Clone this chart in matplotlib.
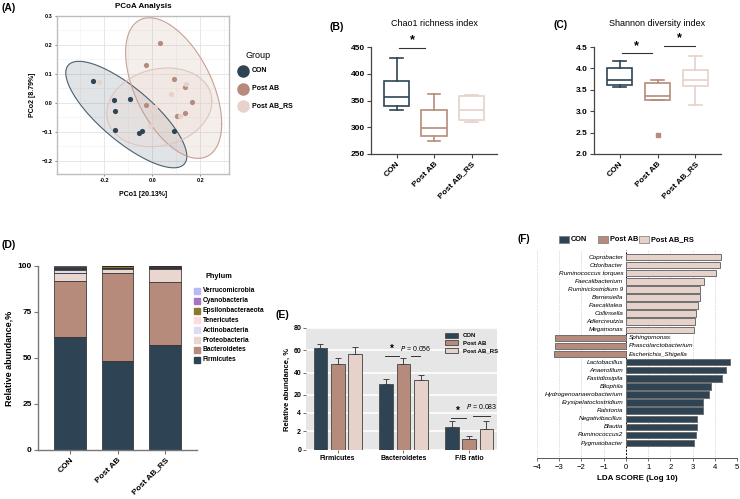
import numpy as np
import matplotlib
matplotlib.use("Agg")
import matplotlib.pyplot as plt
from matplotlib.lines import Line2D

plt.rcParams['font.family'] = ['Liberation Sans', 'DejaVu Sans']

groups = ['CON', 'Post AB', 'Post AB_RS']
col = {'CON': '#2e4454', 'Post AB': '#b68b7b', 'Post AB_RS': '#e6d2ca'}

# ---- (A) PCoA
pcoa_con_x = [-0.245, -0.157, -0.093, -0.155, -0.155, -0.054, -0.042, 0.089]
pcoa_con_y = [0.074, 0.010, 0.012, -0.029, -0.094, -0.103, -0.097, -0.097]
pcoa_ab_x = [0.031, -0.025, 0.089, 0.136, 0.167, -0.025, 0.136, 0.104]
pcoa_ab_y = [0.208, 0.130, 0.081, 0.056, 0.002, -0.007, -0.034, -0.044]
pcoa_rs_x = [-0.221, 0.142, 0.078, 0.011, 0.0, 0.013, -0.008, 0.114]
pcoa_rs_y = [0.071, 0.065, 0.032, -0.013, -0.027, -0.050, -0.079, -0.044]
# confidence ellipses: centre, half-extent in x and y, y-offset of the rightmost point
ell_cx = [-0.1075, 0.0896, 0.030]
ell_cy = [-0.0406, 0.051, -0.0156]
ell_rx = [0.252, 0.200, 0.219]
ell_ry = [0.184, 0.243, 0.136]
ell_k = [-0.144, -0.123, 0.021]

# ---- (B) Chao1  (whislo, q1, med, q3, whishi)
chao1 = [[333, 340, 356, 387, 430], [274, 284, 299, 333, 362], [310, 314, 333, 359, 361]]
# ---- (C) Shannon
shannon = [[3.56, 3.61, 3.72, 4.02, 4.17], [3.27, 3.27, 3.36, 3.67, 3.73], [3.14, 3.60, 3.74, 3.97, 4.30]]
shannon_outlier = [[], [2.45], []]

# ---- (D) phylum composition
phyla = ['Firmicutes', 'Bacteroidetes', 'Proteobacteria', 'Actinobacteria', 'Tenericutes',
         'Epsilonbacteraeota', 'Cyanobacteria', 'Verrucomicrobia']
phyla_col = ['#2e4454', '#b68b7b', '#e8d6cf', '#dcdcf6', '#ffd9dc', '#8a7b2c', '#a674c4', '#b9b9fa']
abund = {
    'Firmicutes': [61.5, 48.2, 57.3],
    'Bacteroidetes': [30.4, 48.2, 34.0],
    'Proteobacteria': [4.5, 2.2, 7.2],
    'Actinobacteria': [1.5, 0.2, 0.4],
    'Tenericutes': [0.6, 0.1, 0.2],
    'Epsilonbacteraeota': [0.4, 1.0, 0.6],
    'Cyanobacteria': [0.3, 0.1, 0.1],
    'Verrucomicrobia': [0.8, 0.2, 0.2],
}

# ---- (E) mean +- error
e_cats = ['Firmicutes', 'Bacteroidetes', 'F/B ratio']
e_mean = {'CON': [62, 30, 2.5], 'Post AB': [48, 48, 1.2], 'Post AB_RS': [57, 33.5, 2.3]}
e_err = {'CON': [4, 4, 0.6], 'Post AB': [5, 5, 0.3], 'Post AB_RS': [6, 4.5, 0.8]}

# ---- (F) LEfSe
taxa = ['Coprobacter', 'Odoribacter', 'Ruminococcus torques', 'Faecalibacterium', 'Ruminiclostridium 9',
        'Barnesiella', 'Faecalitalea', 'Collinsella', 'Adlercreutzia', 'Megamonas',
        'Sphingomonas', 'Phascolarctobacterium', 'Escherichia_Shigella',
        'Lactobacillus', 'Anaerofilum', 'Fastidiosipila', 'Bilophila', 'Hydrogenoanaerobacterium',
        'Erysipelatoclostridium', 'Ralstonia', 'Negativibacillus', 'Blautia', 'Ruminococcus2', 'Pygmaiobacter']
lda = [4.27, 4.25, 4.06, 3.52, 3.34, 3.33, 3.25, 3.17, 3.13, 3.07,
       -3.19, -3.19, -3.22,
       4.68, 4.50, 4.32, 3.82, 3.75, 3.49, 3.45, 3.19, 3.18, 3.15, 3.07]
lda_group = ['Post AB_RS'] * 10 + ['Post AB'] * 3 + ['CON'] * 11

W, H = 740, 499
fig = plt.figure(figsize=(W / 100, H / 100), dpi=100)


def ax_px(l, t, r, b):
    return fig.add_axes([l / W, 1 - b / H, (r - l) / W, (b - t) / H])


def label(x, y, s, size=7.5):
    fig.text(x / W, 1 - y / H, s, fontsize=size, fontweight='bold', va='center', ha='left')


# ================= A
ax = ax_px(57, 16, 229, 174)
ax.set_xlim(-0.396, 0.32)
ax.set_ylim(-0.246, 0.3)
ax.set_xticks([-0.2, 0.0, 0.2])
ax.set_yticks([-0.2, -0.1, 0.0, 0.1, 0.2, 0.3])
ax.set_xticks([-0.3, -0.1, 0.1, 0.3], minor=True)
ax.set_yticks([-0.15, -0.05, 0.05, 0.15, 0.25], minor=True)
ax.grid(True, which='major', color='#e3e3e3', lw=0.6)
ax.grid(True, which='minor', color='#efefef', lw=0.4)
ax.set_axisbelow(True)
for s in ax.spines.values():
    s.set_color('#bdbdbd')
    s.set_linewidth(1.0)
ax.tick_params(labelsize=4, length=1.5, width=0.5, color='#555555', pad=1.5)
ax.tick_params(which='minor', length=0)
for t in ax.get_xticklabels() + ax.get_yticklabels():
    t.set_fontweight('bold')
ax.set_xticklabels(['-0.2', '0.0', '0.2'])
t = np.linspace(0, 2 * np.pi, 240)
ell_face = ['#2e4454', '#c69c8c', '#ead8d0']
ell_edge = ['#4b6070', '#c8a092', '#dcc6bd']
ell_alpha = [0.14, 0.16, 0.3]
for i in range(3):
    m = np.array([[ell_rx[i] ** 2, ell_k[i] * ell_rx[i]],
                  [ell_k[i] * ell_rx[i], ell_ry[i] ** 2]])
    L = np.linalg.cholesky(m)
    pts = L @ np.vstack([np.cos(t), np.sin(t)])
    ex = ell_cx[i] + pts[0]
    ey = ell_cy[i] + pts[1]
    ax.fill(ex, ey, color=ell_face[i], alpha=ell_alpha[i], lw=0)
    ax.plot(ex, ey, color=ell_edge[i], lw=0.8)
ax.scatter(pcoa_con_x, pcoa_con_y, s=14, color=col['CON'], zorder=3, lw=0)
ax.scatter(pcoa_ab_x, pcoa_ab_y, s=14, color=col['Post AB'], zorder=3, lw=0)
ax.scatter(pcoa_rs_x, pcoa_rs_y, s=14, color=col['Post AB_RS'], zorder=3, lw=0)
ax.set_xlabel('PCo1 [20.13%]', fontsize=5, fontweight='bold', labelpad=6)
ax.set_ylabel('PCo2 [8.79%]', fontsize=5, fontweight='bold', labelpad=4)
ax.set_title('PCoA Analysis', fontsize=5.8, fontweight='bold', pad=6)
label(2, 8, '(A)')
fig.text(245 / W, 1 - 55 / H, 'Group', fontsize=6.5, va='center')
for i, g in enumerate(groups):
    yy = 71 + i * 17.5
    fig.add_artist(Line2D([243 / W], [1 - yy / H], marker='o', ms=8, color=col[g], ls='none',
                          transform=fig.transFigure))
    fig.text(252 / W, 1 - yy / H, g, fontsize=5, fontweight='bold', va='center')


# ================= B / C box plots
def boxpanel(ax, stats, fliers, ylim, yticks, title):
    bx = []
    for (lo, q1, md, q3, hi), fl in zip(stats, fliers):
        bx.append(dict(whislo=lo, q1=q1, med=md, q3=q3, whishi=hi, fliers=fl))
    art = ax.bxp(bx, positions=[0, 1, 2], widths=0.67, showfliers=True, patch_artist=True)
    for i, g in enumerate(groups):
        c = col[g]
        art['boxes'][i].set(facecolor='white', edgecolor=c, lw=1.2)
        art['medians'][i].set(color=c, lw=1.2)
        for k in (2 * i, 2 * i + 1):
            art['whiskers'][k].set(color=c, lw=1.2)
            art['caps'][k].set(color=c, lw=1.2)
        art['fliers'][i].set(marker='s', markerfacecolor=c, markeredgecolor=c, ms=3.5)
    ax.set_xlim(-0.68, 2.68)
    ax.set_ylim(*ylim)
    ax.set_yticks(yticks)
    ax.spines['top'].set_visible(False)
    ax.spines['right'].set_visible(False)
    for s in ('left', 'bottom'):
        ax.spines[s].set_color('#444444')
        ax.spines[s].set_linewidth(0.9)
    ax.tick_params(labelsize=6, length=3, width=0.8, color='#444444', pad=1.5)
    ax.set_xticks([0, 1, 2])
    ax.set_xticklabels(groups, rotation=45, ha='right', rotation_mode='anchor', fontweight='bold')
    for tl in ax.get_yticklabels():
        tl.set_fontweight('bold')
    ax.set_title(title, fontsize=6.5, pad=15)


ax = ax_px(371, 47, 497, 154)
boxpanel(ax, chao1, [[], [], []], (250, 450), [250, 300, 350, 400, 450], 'Chao1 richness index')
ax.plot([0.06, 0.76], [448, 448], color='#333333', lw=0.8, clip_on=False)
ax.text(0.41, 451, '*', fontsize=9, fontweight='bold', ha='center', va='bottom')
label(330, 27, '(B)')

ax = ax_px(594, 47, 721, 154)
boxpanel(ax, shannon, shannon_outlier, (2.0, 4.5), [2.0, 2.5, 3.0, 3.5, 4.0, 4.5], 'Shannon diversity index')
ax.plot([0.05, 0.86], [4.36, 4.36], color='#333333', lw=0.8, clip_on=False)
ax.plot([1.16, 1.98], [4.53, 4.53], color='#333333', lw=0.8, clip_on=False)
ax.text(0.45, 4.39, '*', fontsize=9, fontweight='bold', ha='center', va='bottom')
ax.text(1.57, 4.56, '*', fontsize=9, fontweight='bold', ha='center', va='bottom')
label(554, 25, '(C)')

# ================= D
ax = ax_px(38, 266, 197, 450)
bottom = np.zeros(3)
for p, c in zip(phyla, phyla_col):
    vals = np.array(abund[p])
    ax.bar([0, 1, 2], vals, bottom=bottom, width=0.67, color=c, edgecolor='#222222', lw=0.5)
    bottom += vals
ax.set_xlim(-0.67, 2.67)
ax.set_ylim(0, 100)
ax.set_yticks([0, 25, 50, 75, 100])
ax.spines['top'].set_visible(False)
ax.spines['right'].set_visible(False)
for s in ('left', 'bottom'):
    ax.spines[s].set_color('#777777')
    ax.spines[s].set_linewidth(1.0)
ax.tick_params(labelsize=6, length=3, width=0.8, color='#777777', pad=1.5)
ax.set_xticks([0, 1, 2])
ax.set_xticklabels(groups, rotation=45, ha='right', rotation_mode='anchor', fontweight='bold')
for tl in ax.get_yticklabels():
    tl.set_fontweight('bold')
ax.set_ylabel('Relative abundance,%', fontsize=6.5, fontweight='bold', labelpad=3)
label(2, 245, '(D)')
fig.text(205 / W, 1 - 277 / H, 'Phylum', fontsize=5.3, fontweight='bold', va='center')
for i, p in enumerate(phyla[::-1]):
    yy = 291 + i * 9.8
    ci = phyla_col[phyla.index(p)]
    fig.add_artist(Line2D([197 / W], [1 - yy / H], marker='s', ms=4, color=ci, ls='none',
                          transform=fig.transFigure))
    fig.text(203 / W, 1 - yy / H, p, fontsize=4.8, fontweight='bold', va='center')


# ================= E  (broken-style axis: 0-4 stretched, above 4 compressed)
def fwd(v):
    v = np.asarray(v, dtype=float)
    return np.where(v <= 4, v, 4 + (v - 4) * 0.12)


def inv(v):
    v = np.asarray(v, dtype=float)
    return np.where(v <= 4, v, 4 + (v - 4) / 0.12)


ax = ax_px(306, 328, 497, 450)
ax.set_facecolor('#e6e6e6')
ax.set_yscale('function', functions=(fwd, inv))
ax.set_ylim(0, 80)
ax.set_yticks([0, 2, 4, 20, 40, 60, 80])
ax.yaxis.grid(True, color='white', lw=1.2)
ax.set_axisbelow(True)
xs = np.arange(3)
for k, g in enumerate(groups):
    ax.bar(xs + (k - 1) * 0.26, e_mean[g], width=0.21, color=col[g], edgecolor='#555555', lw=0.7,
           yerr=[[0, 0, 0], e_err[g]], error_kw=dict(ecolor='#444444', elinewidth=0.7, capsize=2.5, capthick=0.7),
           label=g)
ax.set_xlim(-0.48, 2.42)
for s in ax.spines.values():
    s.set_visible(False)
ax.set_xticks(xs)
ax.set_xticklabels(e_cats, fontweight='bold')
ax.tick_params(labelsize=5, length=2, width=0.6, color='#555555', pad=1.5)
for tl in ax.get_yticklabels():
    tl.set_fontweight('bold')
ax.set_ylabel('Relative abundance, %', fontsize=5.5, fontweight='bold', labelpad=2)
leg = ax.legend(loc='upper right', bbox_to_anchor=(1.03, 1.0), fontsize=4.3, frameon=False,
                handlelength=2.2, handleheight=0.9, labelspacing=0.35, borderpad=0.3)
for tx in leg.get_texts():
    tx.set_fontweight('bold')
ax.plot([0.72, 0.93], [54.5, 54.5], color='#333333', lw=0.7)
ax.plot([1.11, 1.25], [55, 55], color='#333333', lw=0.7)
ax.text(0.83, 57, '*', fontsize=7, fontweight='bold', ha='center', va='bottom')
ax.text(0.95, 58, '$P$ = 0.056', fontsize=5, ha='left', va='bottom')
ax.plot([1.715, 1.95], [3.41, 3.41], color='#333333', lw=0.7)
ax.plot([2.05, 2.31], [3.63, 3.63], color='#333333', lw=0.7)
ax.text(1.83, 3.65, '*', fontsize=7, fontweight='bold', ha='center', va='bottom')
ax.text(1.95, 5.5, '$P$ = 0.083', fontsize=5, ha='left', va='bottom')
label(276, 315, '(E)')

# ================= F
ax = ax_px(537, 250, 737, 458)
ypos = np.arange(len(taxa))
ax.barh(ypos, lda, height=0.8, color=[col[g] for g in lda_group], edgecolor='#6f6f6f', lw=0.7)
for y, v, name in zip(ypos, lda, taxa):
    if v > 0:
        ax.text(-0.12, y, name, fontsize=4.6, style='italic', ha='right', va='center')
    else:
        ax.text(0.12, y, name, fontsize=4.6, style='italic', ha='left', va='center')
ax.set_xlim(-4, 5)
ax.set_ylim(24.85, -0.87)
for xv in range(-4, 6):
    if xv == 0:
        ax.axvline(0, color='black', lw=0.7, ls=(0, (2, 1.5)), zorder=0)
    else:
        ax.axvline(xv, color='#bbbbbb', lw=0.5, ls=(0, (1, 1.5)), zorder=0)
for s in ('top', 'right', 'left'):
    ax.spines[s].set_visible(False)
ax.spines['bottom'].set_color('#555555')
ax.spines['bottom'].set_linewidth(0.7)
ax.set_yticks([])
ax.set_xticks(range(-4, 6))
ax.tick_params(labelsize=5.5, length=2.5, width=0.6, color='#555555', pad=1.5)
ax.set_xlabel('LDA SCORE (Log 10)', fontsize=5.8, fontweight='bold', labelpad=3)
label(517, 239, '(F)', size=7)
for g, xs0 in zip(groups, [559, 598, 639]):
    fig.add_artist(plt.Rectangle((xs0 / W, 1 - 243 / H), 10 / W, 7 / H, facecolor=col[g],
                                 edgecolor='#777777', lw=0.5, transform=fig.transFigure))
    fig.text((xs0 + 12) / W, 1 - 239.5 / H, g, fontsize=5.3, fontweight='bold', va='center')

fig.savefig('out.png', dpi=100)
